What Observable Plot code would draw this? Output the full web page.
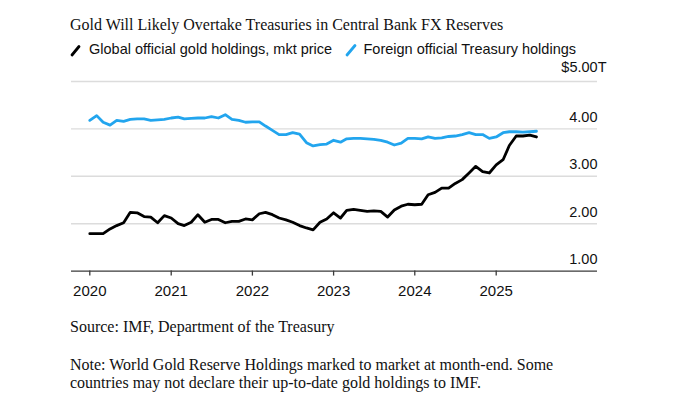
<!DOCTYPE html>
<html>
<head>
<meta charset="utf-8">
<script src="https://cdn.jsdelivr.net/npm/d3@7"></script>
<script src="https://cdn.jsdelivr.net/npm/@observablehq/plot@0.6"></script>
<style>
  html, body { margin: 0; padding: 0; background: #fff; }
  body { width: 690px; height: 412px; position: relative; overflow: hidden; }
  .serif { font-family: "Liberation Serif", "Times New Roman", serif; color: #111; }
  .sans { font-family: "Liberation Sans", Arial, sans-serif; color: #111; }
  .abs { position: absolute; white-space: nowrap; }
  #title { left: 70px; top: 15px; font-size: 16px; line-height: 20px; }
  .legtext { font-size: 14.5px; line-height: 18px; top: 40px; }
  .swatch { position: absolute; top: 44px; }
  #chart { position: absolute; left: 0; top: 58px; }
  #source { left: 70px; top: 317px; font-size: 16px; line-height: 20px; }
  #note { left: 70px; top: 356px; font-size: 16px; line-height: 18px; }
</style>
</head>
<body>
<div id="title" class="abs serif">Gold Will Likely Overtake Treasuries in Central Bank FX Reserves</div>

<svg class="swatch" style="left:70px" width="11" height="13"><line x1="2" y1="11" x2="9" y2="2.5" stroke="#000" stroke-width="2.8" stroke-linecap="round"/></svg>
<div class="abs sans legtext" style="left:89px">Global official gold holdings, mkt price</div>
<svg class="swatch" style="left:345px; top:43px" width="12" height="14"><line x1="2" y1="12" x2="10" y2="2.5" stroke="#22a5ee" stroke-width="2.8" stroke-linecap="round"/></svg>
<div class="abs sans legtext" style="left:363.5px">Foreign official Treasury holdings</div>

<div id="chart"></div>

<div id="source" class="abs serif">Source: IMF, Department of the Treasury</div>
<div id="note" class="abs serif">Note: World Gold Reserve Holdings marked to market at month-end. Some<br>countries may not declare their up-to-date gold holdings to IMF.</div>

<script>
// Monthly observations, Jan 2020 through Jul 2025 (trillions of US dollars)
const startMonth = "2020-01-01";
const endMonthExclusive = "2025-08-01";

const goldHoldings = [
  1.79, 1.79, 1.79, 1.89, 1.96, 2.02, 2.24, 2.23, 2.15, 2.14, 2.02, 2.17,
  2.12, 2.00, 1.96, 2.03, 2.19, 2.03, 2.09, 2.09, 2.02, 2.05, 2.05, 2.10,
  2.08, 2.21, 2.24, 2.19, 2.12, 2.08, 2.03, 1.96, 1.91, 1.87, 2.03, 2.10,
  2.23, 2.12, 2.28, 2.30, 2.28, 2.26, 2.27, 2.26, 2.14, 2.29, 2.37, 2.41,
  2.40, 2.41, 2.61, 2.66, 2.75, 2.75, 2.85, 2.93, 3.07, 3.21, 3.10, 3.07,
  3.24, 3.35, 3.65, 3.85, 3.85, 3.87, 3.83
];

const treasuryHoldings = [
  4.18, 4.28, 4.14, 4.08, 4.18, 4.16, 4.20, 4.21, 4.21, 4.18, 4.19, 4.20,
  4.23, 4.25, 4.21, 4.22, 4.23, 4.23, 4.26, 4.23, 4.30, 4.20, 4.18, 4.14,
  4.15, 4.15, 4.06, 3.97, 3.88, 3.88, 3.92, 3.89, 3.71, 3.64, 3.67, 3.68,
  3.76, 3.72, 3.79, 3.80, 3.80, 3.79, 3.78, 3.76, 3.72, 3.66, 3.70, 3.80,
  3.80, 3.79, 3.83, 3.80, 3.81, 3.84, 3.85, 3.88, 3.92, 3.88, 3.88, 3.80,
  3.83, 3.92, 3.94, 3.94, 3.93, 3.94, 3.95
];

const yearTicks = ["2020", "2021", "2022", "2023", "2024", "2025"];
const yTickValues = [1, 2, 3, 4];
const yTopTick = [5];
const yTopLabel = "$5.00T";

const months = d3.utcMonth.range(new Date(startMonth), new Date(endMonthExclusive));
const goldData = months.map((d, i) => ({date: d, value: goldHoldings[i]}));
const treasuryData = months.map((d, i) => ({date: d, value: treasuryHoldings[i]}));
const yearDates = yearTicks.map(y => new Date(y + "-01-01"));

const BLUE = "#22a5ee";

const chart = Plot.plot({
  width: 690,
  height: 250,
  marginLeft: 71,
  marginRight: 93,
  marginTop: 23,
  marginBottom: 37.4,
  style: {fontFamily: "'Liberation Sans', Arial, sans-serif", background: "transparent", color: "#111"},
  x: {type: "utc", domain: [yearDates[0], yearDates[5]], range: [89.3, 495.7]},
  y: {domain: [1, 5]},
  marks: [
    Plot.ruleY([2, 3, 4, 5], {stroke: "#dcdcdc", strokeWidth: 1.4}),
    Plot.ruleY([1], {stroke: "#3a3a3a", strokeWidth: 1.3}),
    Plot.axisX({
      ticks: yearDates,
      tickFormat: d3.utcFormat("%Y"),
      tickSize: 5,
      tickPadding: 9.5,
      fontSize: 15,
      stroke: "#3a3a3a",
      strokeWidth: 1.3,
      fill: "#111",
      label: null
    }),
    Plot.axisY({ticks: [], label: null, tickSize: 0}),
    Plot.text(yTickValues, {
      y: d => d,
      frameAnchor: "right",
      textAnchor: "end",
      dy: -11.5,
      text: d => d.toFixed(2),
      fontSize: 14.5,
      fill: "#111"
    }),
    Plot.text(yTopTick, {
      y: d => d,
      frameAnchor: "right",
      textAnchor: "end",
      dx: 9,
      dy: -14,
      text: () => yTopLabel,
      fontSize: 14.5,
      fill: "#111"
    }),
    Plot.line(treasuryData, {x: "date", y: "value", stroke: BLUE, strokeWidth: 2.8, strokeLinejoin: "round", strokeLinecap: "round"}),
    Plot.line(goldData, {x: "date", y: "value", stroke: "#000", strokeWidth: 2.8, strokeLinejoin: "round", strokeLinecap: "round"})
  ]
});
document.getElementById("chart").appendChild(chart);
</script>
</body>
</html>
